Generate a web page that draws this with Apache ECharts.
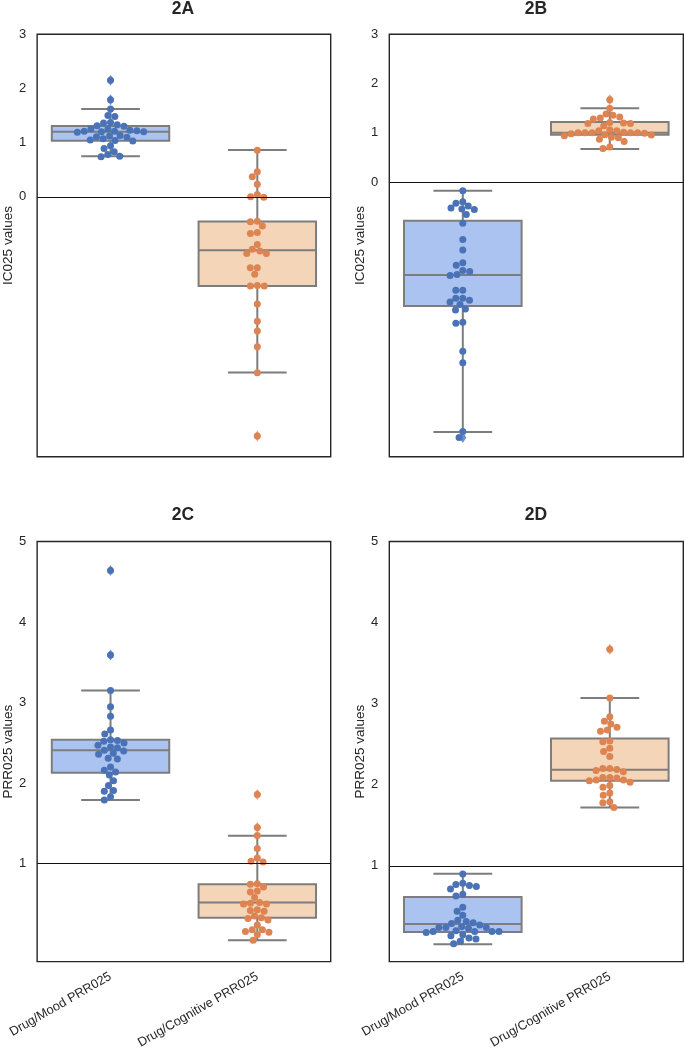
<!DOCTYPE html>
<html><head><meta charset="utf-8">
<script src="https://cdn.jsdelivr.net/npm/echarts@6/dist/echarts.min.js"></script>
<style>html,body{margin:0;padding:0;background:#fff}#chart{width:685px;height:1051px}</style>
</head><body><div id="chart"></div>
<script>
// ---------------- data ----------------
const categories = ['Drug/Mood PRR025', 'Drug/Cognitive PRR025'];
const panelTitles = ['2A', '2B', '2C', '2D'];
const yAxisNames = ['IC025 values', 'IC025 values', 'PRR025 values', 'PRR025 values'];
const icTickLabels = [0, 1, 2, 3];
const prrTickLabels = [1, 2, 3, 4, 5];
const refLines = [0, 0, 1, 1];
const yRanges = [[-4.80, 3], [-5.58, 3], [-0.215, 5], [-0.18, 5]];

// swarm values
const aMood = [2.15, 1.79, 1.62, 1.50, 1.48, 1.37, 1.36, 1.33, 1.31, 1.30, 1.25, 1.25, 1.23, 1.22, 1.21, 1.21, 1.20, 1.20, 1.19, 1.13, 1.12, 1.11, 1.10, 1.07, 1.05, 1.04, 1.03, 0.94, 0.89, 0.83, 0.78, 0.75, 0.74];
const aCog = [0.86, 0.46, 0.37, 0.23, 0.04, 0.00, -0.01, -0.45, -0.46, -0.54, -0.66, -0.68, -0.88, -0.97, -1.00, -1.05, -1.05, -1.31, -1.31, -1.43, -1.64, -1.65, -1.65, -1.98, -2.30, -2.48, -2.77, -3.25, -4.42];
const bMood = [-0.18, -0.40, -0.43, -0.49, -0.53, -0.55, -0.56, -0.66, -0.84, -1.17, -1.38, -1.64, -1.69, -1.80, -1.82, -1.88, -1.90, -2.20, -2.20, -2.36, -2.36, -2.40, -2.44, -2.49, -2.58, -2.60, -2.85, -2.87, -3.44, -3.67, -5.07, -5.19];
const bCog = [1.67, 1.50, 1.38, 1.355, 1.32, 1.30, 1.28, 1.21, 1.20, 1.19, 1.19, 1.14, 1.06, 1.04, 1.04, 1.01, 1.00, 1.00, 1.00, 1.00, 1.00, 0.99, 0.98, 0.96, 0.955, 0.94, 0.91, 0.90, 0.87, 0.82, 0.71, 0.68];
const cMood = [4.64, 3.59, 3.15, 2.95, 2.83, 2.66, 2.61, 2.54, 2.53, 2.52, 2.50, 2.47, 2.45, 2.44, 2.41, 2.40, 2.37, 2.36, 2.31, 2.30, 2.20, 2.16, 2.14, 2.10, 2.03, 1.97, 1.91, 1.90, 1.83, 1.79];
const cCog = [1.86, 1.45, 1.35, 1.19, 1.07, 1.03, 1.02, 0.75, 0.745, 0.71, 0.66, 0.65, 0.58, 0.52, 0.51, 0.50, 0.50, 0.43, 0.42, 0.41, 0.35, 0.33, 0.32, 0.30, 0.24, 0.18, 0.18, 0.16, 0.15, 0.12, 0.05];
const dMood = [0.90, 0.785, 0.77, 0.757, 0.745, 0.715, 0.65, 0.63, 0.49, 0.44, 0.39, 0.33, 0.315, 0.30, 0.29, 0.27, 0.25, 0.24, 0.24, 0.24, 0.23, 0.20, 0.19, 0.19, 0.19, 0.18, 0.19, 0.15, 0.14, 0.11, 0.10, 0.07, 0.04];
const dCog = [3.67, 3.07, 2.84, 2.785, 2.75, 2.71, 2.675, 2.66, 2.54, 2.53, 2.45, 2.41, 2.35, 2.20, 2.19, 2.20, 2.175, 2.16, 2.09, 2.09, 2.085, 2.06, 2.06, 2.05, 2.03, 1.99, 1.97, 1.90, 1.87, 1.79, 1.78, 1.72];

// box stats: [lower whisker, Q1, median, Q3, upper whisker]
const aMoodBox = [0.746, 1.035, 1.20, 1.306, 1.62];
const aCogBox = [-3.245, -1.65, -0.99, -0.455, 0.863];
const bMoodBox = [-5.08, -2.52, -1.89, -0.786, -0.177];
const bCogBox = [0.67, 0.96, 1.00, 1.22, 1.50];
const cMoodBox = [1.79, 2.13, 2.41, 2.54, 3.15];
const cCogBox = [0.05, 0.33, 0.52, 0.745, 1.347];
const dMoodBox = [0.034, 0.184, 0.283, 0.616, 0.904];
const dCogBox = [1.72, 2.05, 2.185, 2.57, 3.07];

// outliers (fliers)
const aMoodOut = [2.15, 1.79];
const aCogOut = [-4.42];
const bMoodOut = [-5.19];
const bCogOut = [1.67];
const cMoodOut = [4.64, 3.59];
const cCogOut = [1.86, 1.45];
const dMoodOut = [];
const dCogOut = [3.67];

// ---------------- style / layout ----------------
const FONT = '"Liberation Sans", Arial, Helvetica, sans-serif';
const TEXT = '#262626';
const dotColors = ['#4a72b6', '#dd8452'];
const boxFills = ['#abc3f1', '#f5d5b7'];
const edgeColor = '#7d7d7d';
const DOT_R = 3.5, DOT_D = 7.0;

const grids = [
  { left: 36, top: 34.3, width: 294.7, height: 422.4 },
  { left: 389.3, top: 34.3, width: 294, height: 422.4 },
  { left: 36, top: 541.5, width: 294.7, height: 422.3 },
  { left: 389.3, top: 541.5, width: 294, height: 422.3 }
];
const titlePos = [[183, 9], [536, 9], [183, 515], [536, 515]];

const panels = [
  { vals: [aMood, aCog], box: [aMoodBox, aCogBox], out: [aMoodOut, aCogOut], ticks: icTickLabels },
  { vals: [bMood, bCog], box: [bMoodBox, bCogBox], out: [bMoodOut, bCogOut], ticks: icTickLabels },
  { vals: [cMood, cCog], box: [cMoodBox, cCogBox], out: [cMoodOut, cCogOut], ticks: prrTickLabels },
  { vals: [dMood, dCog], box: [dMoodBox, dCogBox], out: [dMoodOut, dCogOut], ticks: prrTickLabels }
];

function beeswarm(ys, d) {
  const order = ys.map((y, i) => i).sort((a, b) => ys[a] - ys[b]);
  const placed = [];
  const off = new Array(ys.length).fill(0);
  for (const i of order) {
    const y = ys[i];
    const near = placed.filter(p => Math.abs(p.y - y) < d);
    const cands = [0];
    for (const p of near) {
      const dx = Math.sqrt(d * d - (p.y - y) * (p.y - y));
      cands.push(p.x + dx, p.x - dx);
    }
    cands.sort((a, b) => (Math.abs(a) - Math.abs(b)) || (a - b));
    let x = 0;
    for (const c of cands) {
      if (near.every(p => (p.x - c) * (p.x - c) + (p.y - y) * (p.y - y) >= d * d - 1e-6)) { x = c; break; }
    }
    placed.push({ x, y });
    off[i] = x;
  }
  return off;
}

const option = {
  animation: false,
  backgroundColor: '#fff',
  textStyle: { fontFamily: FONT },
  grid: grids.map(g => Object.assign({ show: true, borderColor: TEXT, borderWidth: 1.4, backgroundColor: 'transparent', containLabel: false }, g)),
  xAxis: grids.map((g, i) => ({
    type: 'category', gridIndex: i, data: categories, boundaryGap: true,
    axisLine: { show: false }, axisTick: { show: false }, splitLine: { show: false },
    axisLabel: { show: i >= 2, rotate: 30, margin: 14, color: TEXT, fontSize: 12.8, fontFamily: FONT, interval: 0 }
  })),
  yAxis: grids.map((g, i) => ({
    type: 'value', gridIndex: i, min: yRanges[i][0], max: yRanges[i][1],
    name: yAxisNames[i], nameLocation: 'middle', nameGap: 22,
    nameTextStyle: { color: TEXT, fontSize: 13.5, fontFamily: FONT },
    axisLine: { show: false }, axisTick: { show: false }, splitLine: { show: false },
    axisLabel: { customValues: panels[i].ticks, color: TEXT, fontSize: 13, fontFamily: FONT, margin: 11 }
  })),
  graphic: panelTitles.map((t, i) => ({
    type: 'text', x: titlePos[i][0], y: titlePos[i][1],
    style: { text: t, font: 'bold 17.5px ' + FONT, fill: TEXT, textAlign: 'center', textVerticalAlign: 'middle' }
  })),
  series: []
};

panels.forEach((p, pi) => {
  // boxes
  option.series.push({
    type: 'custom', xAxisIndex: pi, yAxisIndex: pi, z: 2,
    data: p.box.map((b, c) => [c].concat(b)),
    renderItem: (params, api) => {
      const c = api.value(0);
      const lw = api.coord([c, api.value(1)]);
      const q1 = api.coord([c, api.value(2)]);
      const md = api.coord([c, api.value(3)]);
      const q3 = api.coord([c, api.value(4)]);
      const uw = api.coord([c, api.value(5)]);
      const band = api.size([1, 0])[0];
      const hw = band * 0.4, cw = band * 0.2;
      const x = lw[0];
      const st = { stroke: edgeColor, lineWidth: 2 };
      return {
        type: 'group', children: [
          { type: 'line', shape: { x1: x, y1: uw[1], x2: x, y2: lw[1] }, style: st },
          { type: 'rect', shape: { x: x - hw, y: q3[1], width: 2 * hw, height: q1[1] - q3[1] }, style: { fill: boxFills[c], stroke: edgeColor, lineWidth: 2 } },
          { type: 'line', shape: { x1: x - hw, y1: md[1], x2: x + hw, y2: md[1] }, style: st },
          { type: 'line', shape: { x1: x - cw, y1: uw[1], x2: x + cw, y2: uw[1] }, style: st },
          { type: 'line', shape: { x1: x - cw, y1: lw[1], x2: x + cw, y2: lw[1] }, style: st }
        ]
      };
    },
    markLine: {
      silent: true, symbol: 'none', label: { show: false },
      lineStyle: { color: '#111', width: 1.2, type: 'solid' },
      data: [{ yAxis: refLines[pi] }]
    }
  });
  // outliers (diamonds)
  p.out.forEach((arr, c) => {
    option.series.push({
      type: 'scatter', xAxisIndex: pi, yAxisIndex: pi, z: 3,
      symbol: 'diamond', symbolSize: [7, 11],
      itemStyle: { color: dotColors[c] },
      data: arr.map(v => [c, v])
    });
  });
  // swarms
  p.vals.forEach((arr, c) => {
    let cache = null;
    option.series.push({
      type: 'custom', xAxisIndex: pi, yAxisIndex: pi, z: 4,
      data: arr.map(v => [c, v]),
      renderItem: (params, api) => {
        if (!cache) {
          const ys = arr.map(v => api.coord([c, v])[1]);
          cache = beeswarm(ys, DOT_D);
        }
        const pt = api.coord([api.value(0), api.value(1)]);
        return { type: 'circle', shape: { cx: pt[0] + cache[params.dataIndex], cy: pt[1], r: DOT_R }, style: { fill: dotColors[c] } };
      }
    });
  });
});

const chart = echarts.init(document.getElementById('chart'), null, { renderer: 'canvas' });
chart.setOption(option);
</script>
</body></html>
